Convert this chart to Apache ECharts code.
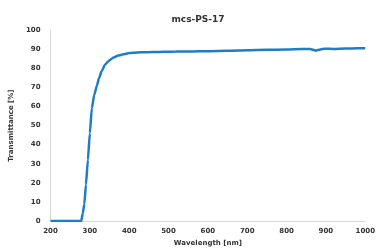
<!DOCTYPE html>
<html>
<head>
<meta charset="utf-8">
<script src="https://cdn.jsdelivr.net/npm/echarts@6/dist/echarts.min.js"></script>
<style>
html, body { margin: 0; padding: 0; background: #fff; }
#report { width: 378px; height: 252px; }
</style>
</head>
<body>
<div id="report"></div>
<script>
// wavelength [nm]
var wavelength = [200, 250, 278, 282, 286, 290, 295, 300, 305, 311, 318, 323, 330, 339, 350, 360, 372, 385, 400, 410, 430, 460, 490, 520, 560, 600, 650, 700, 750, 800, 840, 860, 868, 874, 882, 895, 920, 950, 980, 1000];
// transmittance [%]
var transmittance = [0, 0, 0, 4, 9, 19, 32, 46, 59, 66, 71, 74.6, 78.5, 82, 84.2, 85.6, 86.6, 87.3, 87.9, 88.1, 88.3, 88.5, 88.6, 88.7, 88.8, 88.9, 89.1, 89.4, 89.6, 89.8, 90.0, 90.0, 89.6, 89.2, 89.6, 90.2, 90.1, 90.3, 90.4, 90.4];

var xTicks = [200, 1000, 100];
var yTicks = [0, 100, 10];

var myChart = echarts.init(document.getElementById("report"));
var pts = wavelength.map(function (w, i) { return [w, transmittance[i]]; });

var option = {
    animation: false,
    title: {
        text: "mcs-PS-17",
        left: 193,
        textAlign: "center",
        top: 10,
        textStyle: { fontSize: 9, fontWeight: "bold", color: "#333", fontFamily: "DejaVu Sans" }
    },
    grid: { left: 41, right: 10, top: 30, bottom: 25, containLabel: false },
    xAxis: {
        type: "value",
        min: xTicks[0], max: xTicks[1], interval: xTicks[2],
        name: "Wavelength [nm]",
        nameLocation: "middle",
        nameGap: 16,
        nameTextStyle: { fontSize: 7, fontWeight: "bold", color: "#333", fontFamily: "DejaVu Sans" },
        axisLine: { lineStyle: { color: "#d9d9d9", width: 1 } },
        axisTick: { show: false },
        splitLine: { show: false },
        axisLabel: {
            fontSize: 7, fontWeight: "bold", color: "#333", margin: 7, fontFamily: "DejaVu Sans",
            formatter: function (v) { return String(v); }
        }
    },
    yAxis: {
        type: "value",
        min: yTicks[0], max: yTicks[1], interval: yTicks[2],
        name: "Transmittance [%]",
        nameLocation: "middle",
        nameGap: 27,
        nameTextStyle: { fontSize: 7, fontWeight: "bold", color: "#333", fontFamily: "DejaVu Sans" },
        axisLine: { show: true, lineStyle: { color: "#d9d9d9", width: 1 } },
        axisTick: { show: false },
        splitLine: { show: false },
        axisLabel: { fontSize: 7, fontWeight: "bold", color: "#333", margin: 10, fontFamily: "DejaVu Sans" }
    },
    series: [{
        type: "line",
        data: pts,
        showSymbol: false,
        smooth: 0.2,
        smoothMonotone: "x",
        lineStyle: { color: "#1f7dc6", width: 2.5 }
    }]
};
myChart.setOption(option);
</script>
</body>
</html>
